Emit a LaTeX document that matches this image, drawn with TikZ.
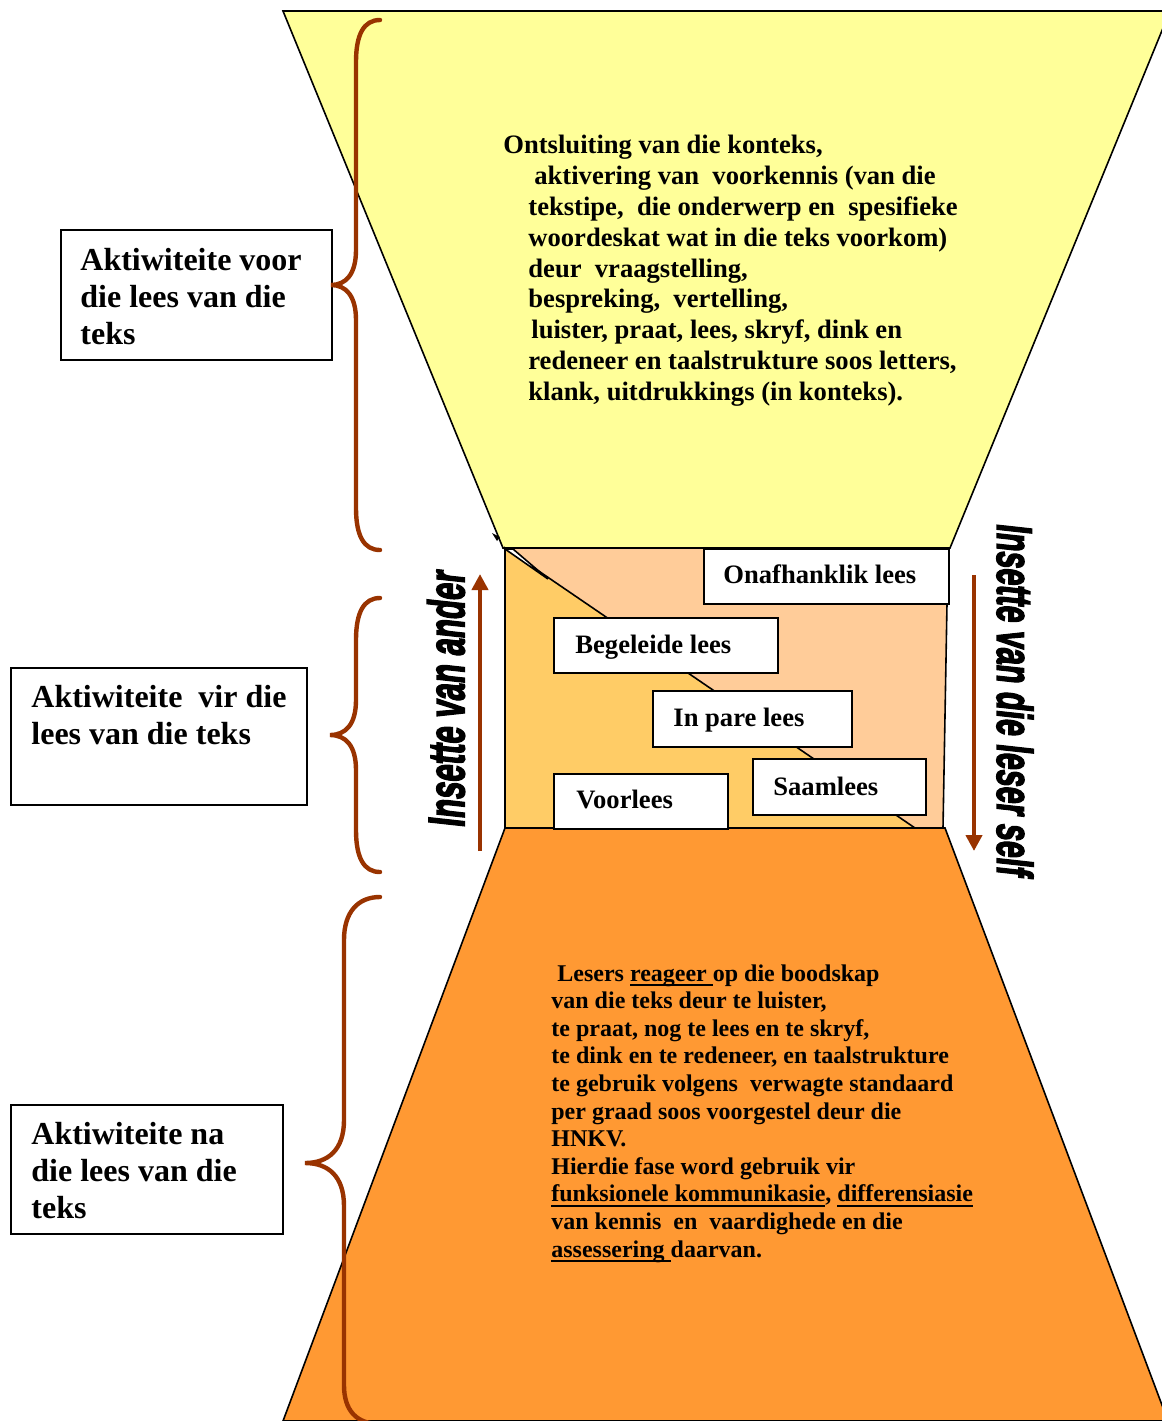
\documentclass[tikz,border=0pt]{standalone}
\usepackage{fontspec}
\setmainfont{Liberation Serif}
\newfontfamily\impactfont[FakeSlant=0.18,FakeBold=3.5]{Liberation Sans}
\newsavebox\ulbox
\newcommand\myul[1]{\sbox\ulbox{#1}\rlap{\rule[-2.6pt]{\wd\ulbox}{1pt}}\usebox\ulbox}
\usetikzlibrary{arrows.meta}
\definecolor{topyellow}{HTML}{FFFF99}
\definecolor{peach}{HTML}{FFCC99}
\definecolor{midorange}{HTML}{FFCC66}
\definecolor{botorange}{HTML}{FF9933}
\definecolor{bracebrown}{HTML}{993300}
\tikzset{
  outline/.style={draw=black, line width=0.8pt, line join=miter},
  labelbox/.style={draw=black, fill=white, line width=1pt, inner sep=0pt, anchor=north west},
  labeltext/.style={font=\fontsize{16}{18.5}\selectfont\bfseries, align=left, inner sep=0pt, anchor=north west},
  readtext/.style={font=\fontsize{13.3}{15.5}\selectfont\bfseries, inner sep=0pt, anchor=base west},
  yellowtext/.style={font=\fontsize{13.3}{15.4}\selectfont\bfseries, align=left, inner sep=0pt, anchor=north west},
  orangetext/.style={font=\fontsize{12}{13.8}\selectfont\bfseries, align=left, inner sep=0pt, anchor=north west},
  bracestyle/.style={draw=bracebrown, line width=2.2pt, line cap=round},
  arrowline/.style={draw=bracebrown, line width=2pt, -{Triangle[length=8pt,width=8pt]}},
  verttext/.style={inner sep=0pt}
}
\begin{document}
\begin{tikzpicture}[x=0.5pt,y=-0.5pt]
\useasboundingbox (0,0) rectangle (1162,1421);
\fill[white] (0,0) rectangle (1162,1421);
\begin{scope}
\clip (0,0) rectangle (1162,1421);
% top funnel
\filldraw[outline, fill=topyellow] (283,11) -- (1170,11) -- (950,548) -- (503,548) -- cycle;
% middle part
\filldraw[outline, fill=peach] (505,548) -- (948,548) -- (943,828) -- (505,828) -- cycle;
\filldraw[outline, fill=midorange] (505,548) -- (915,828) -- (505,828) -- cycle;
\filldraw[outline, fill=white] (505,549) -- (513,549) -- (548,579) -- cycle;
\fill[black] (492,533) -- (500,537) -- (497,541) -- cycle;
% bottom funnel
\filldraw[outline, fill=botorange] (505,828) -- (945,828) -- (1168,1421) -- (283,1421) -- cycle;

% yellow text
\node[yellowtext] (ytext) at (503,135) {Ontsluiting van die konteks,\\
\hspace*{15.5pt}aktivering van\ \ voorkennis (van die\\
\hspace*{12.5pt}tekstipe,\ \ die onderwerp en\ \ spesifieke\\
\hspace*{12.5pt}woordeskat wat in die teks voorkom)\\
\hspace*{12.5pt}deur\ \ vraagstelling,\\
\hspace*{12.5pt}bespreking,\ \ vertelling,\\
\hspace*{14pt}luister, praat, lees, skryf, dink en\\
\hspace*{12.5pt}redeneer en taalstrukture soos letters,\\
\hspace*{12.5pt}klank, uitdrukkings (in konteks).};

% orange text
\node[orangetext] (otext) at (551,964) {\hspace*{3pt}Lesers \myul{reageer\ }op die boodskap\\
van die teks deur te luister,\\
te praat, nog te lees en te skryf,\\
te dink en te redeneer, en taalstrukture\\
te gebruik volgens\ \ verwagte standaard\\
per graad soos voorgestel deur die\\
HNKV.\\
Hierdie fase word gebruik vir\\
\myul{funksionele kommunikasie}, \myul{differensiasie}\\
van kennis\ \ en\ \ vaardighede en die\\
\myul{assessering\ }daarvan.};

% reading boxes
\node[labelbox, minimum width=122.5pt, minimum height=27.5pt] (onaf) at (703,548) {};
\node[readtext] (onaft) at (723,583) {Onafhanklik lees};
\node[labelbox, minimum width=112pt, minimum height=27.5pt] (bege) at (553,617) {};
\node[readtext] (beget) at (575,653) {Begeleide lees};
\node[labelbox, minimum width=99.5pt, minimum height=28pt] (pare) at (652,690) {};
\node[readtext] (paret) at (673,726) {In pare lees};
\node[labelbox, minimum width=86.5pt, minimum height=28pt] (saam) at (752,758) {};
\node[readtext] (saamt) at (773,795) {Saamlees};
\node[labelbox, minimum width=87pt, minimum height=27.5pt] (voor) at (553,773) {};
\node[readtext] (voort) at (576,808) {Voorlees};

% left label boxes
\node[labelbox, minimum width=135.5pt, minimum height=65pt] (lab1) at (60,229) {};
\node[labeltext] (lab1t) at (80,248) {Aktiwiteite voor\\die lees van die\\teks};
\node[labelbox, minimum width=148pt, minimum height=68.5pt] (lab2) at (10,667) {};
\node[labeltext] (lab2t) at (31,685) {Aktiwiteite\ \ vir die\\lees van die teks};
\node[labelbox, minimum width=136pt, minimum height=64.5pt] (lab3) at (10,1104) {};
\node[labeltext] (lab3t) at (31,1122) {Aktiwiteite na\\die lees van die\\teks};

% braces
\draw[bracestyle] (380,20) .. controls (364,20) and (356,34) .. (356,62) -- (356,250)
  .. controls (356,274) and (346,285) .. (331,285)
  .. controls (346,285) and (356,296) .. (356,320) -- (356,508)
  .. controls (356,536) and (364,550) .. (380,550);
\draw[bracestyle] (380,598) .. controls (364,598) and (356,612) .. (356,640) -- (356,700)
  .. controls (356,724) and (346,735) .. (330,735)
  .. controls (346,735) and (356,746) .. (356,770) -- (356,830)
  .. controls (356,858) and (364,872) .. (380,872);
\draw[bracestyle] (380,897) .. controls (358,897) and (344,912) .. (344,940) -- (344,1120)
  .. controls (344,1150) and (328,1163) .. (305,1163)
  .. controls (328,1163) and (344,1176) .. (344,1206) -- (344,1385)
  .. controls (344,1410) and (356,1424) .. (380,1424);

% arrows
\coordinate (upS) at (480,851);
\coordinate (upE) at (480,574);
\draw[arrowline] (upS) -- (upE);
\coordinate (dnS) at (974,575);
\coordinate (dnE) at (974,851);
\draw[arrowline] (dnS) -- (dnE);

% vertical texts
\node[verttext, rotate=90] (ander) at (446,700) {\resizebox{128pt}{18.5pt}{\impactfont\bfseries Insette van ander}};
\node[verttext, rotate=-90] (self) at (1015,699) {\resizebox{176pt}{18pt}{\impactfont\bfseries Insette van die leser self}};
\end{scope}
\end{tikzpicture}
\end{document}
